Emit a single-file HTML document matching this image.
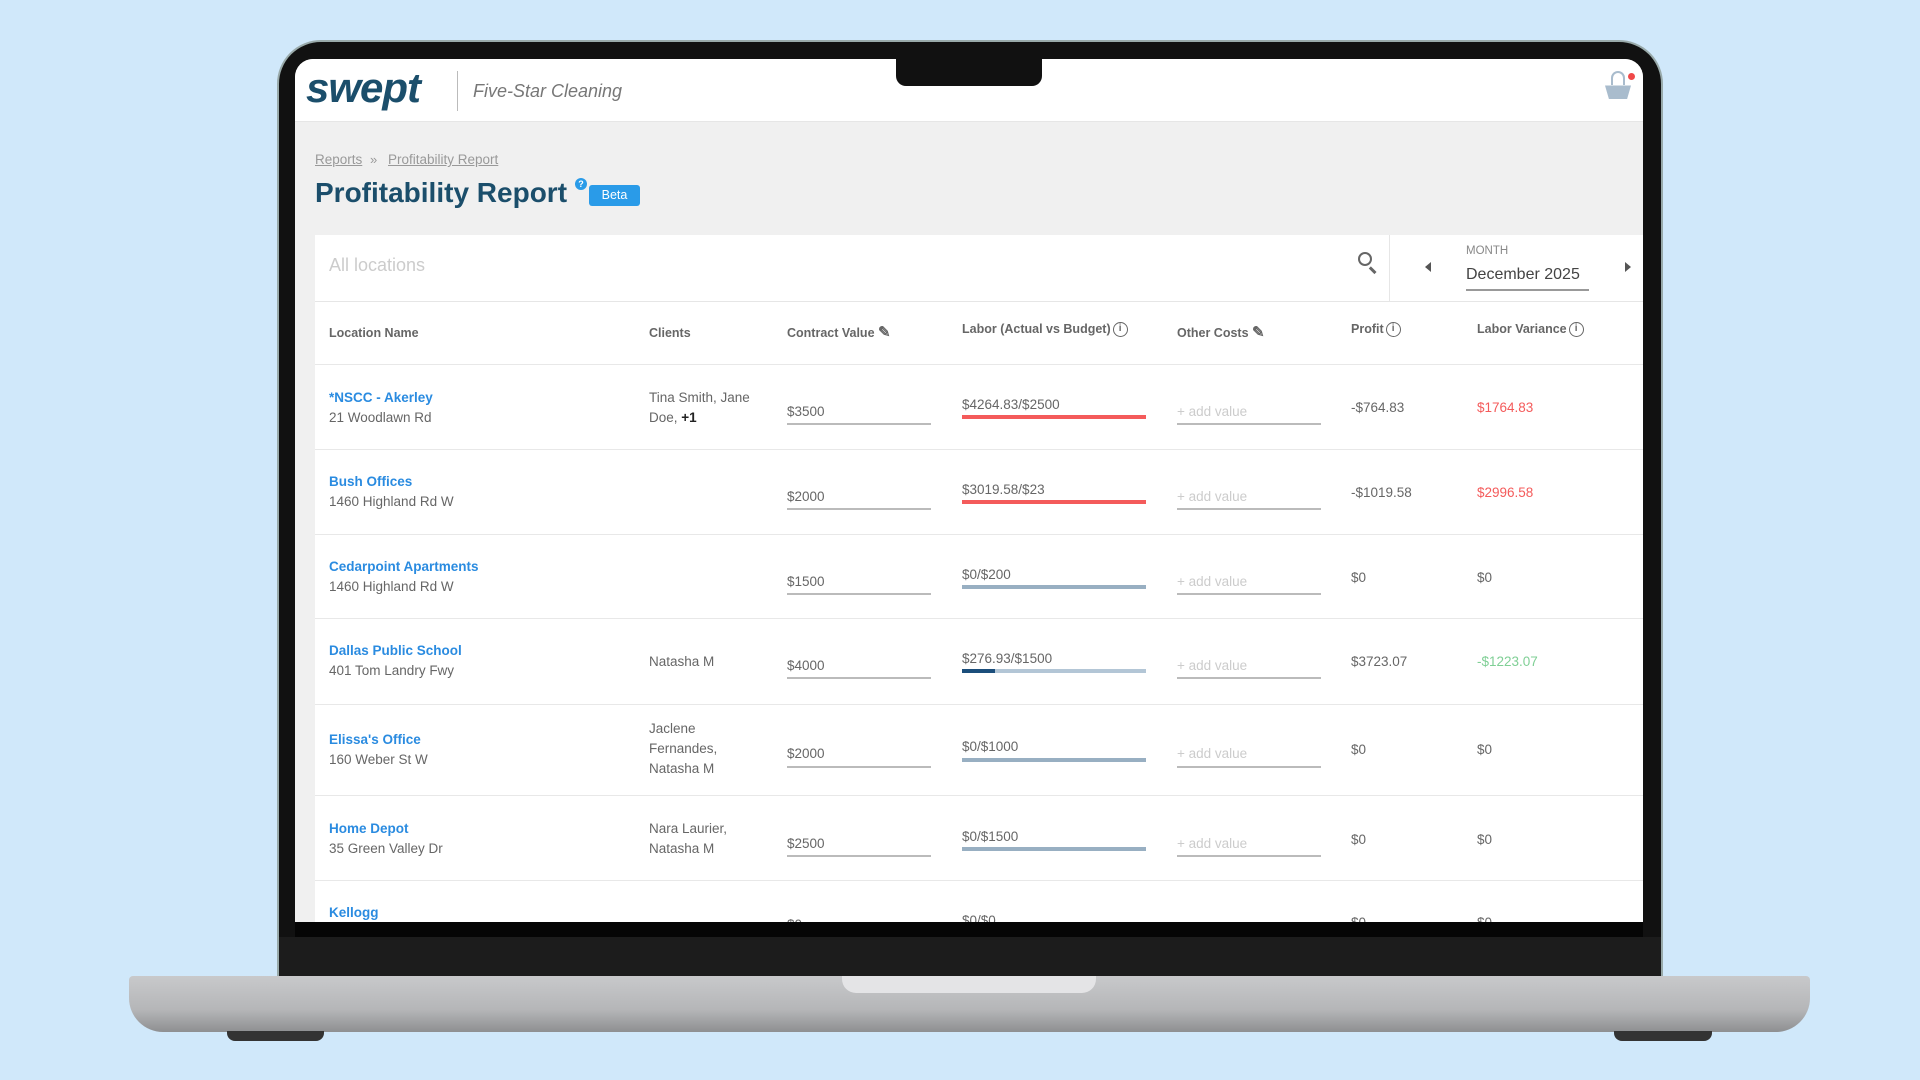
<!DOCTYPE html>
<html><head><meta charset="utf-8"><style>
*{margin:0;padding:0;box-sizing:border-box}
body{width:1920px;height:1080px;background:#d0e8fa;position:relative;overflow:hidden;font-family:"Liberation Sans",sans-serif;color:#555}
.a{position:absolute;white-space:nowrap}
.lid{left:277px;top:40px;width:1386px;height:940px;background:#111;border-radius:44px 44px 0 0;border:2px solid #9aa;}
.scr{left:295px;top:59px;width:1348px;height:863px;background:#f0f0f0;overflow:hidden;border-radius:18px 18px 0 0}
.hdr{left:0;top:0;width:1348px;height:63px;background:#fff;border-bottom:1px solid #e6e6e6}
.card{left:20px;top:176px;width:1328px;height:700px;background:#fff}
.th{font-size:12.5px;font-weight:bold;color:#666;top:91px}
.row{left:0;width:1328px;border-top:1px solid #e8e8e8}
.nm{font-size:13.5px;font-weight:bold;color:#2a8be0}
.ad{font-size:13.5px;color:#666}
.t{font-size:13.5px;color:#666}
.ul{height:2px;background:#bbb}
.ph{font-size:13.5px;color:#ccc}
.ic{display:inline-block;width:15px;height:15px;border:1.5px solid #666;border-radius:50%;font-size:10px;text-align:center;line-height:12px;font-weight:bold;vertical-align:2px;margin-left:2px}
</style></head><body>
<div class="a lid"></div>
<div class="a" style="left:295px;top:922px;width:1348px;height:16px;background:#050505"></div>
<div class="a" style="left:279px;top:937px;width:1382px;height:40px;background:#1c1c1c"></div>
<div class="a" style="left:129px;top:976px;width:1681px;height:56px;background:linear-gradient(#c8c9cb,#b5b6b8 60%,#8e8f91);border-radius:4px 4px 34px 34px"></div>
<div class="a" style="left:842px;top:976px;width:254px;height:17px;background:#e4e4e6;border-radius:0 0 14px 14px"></div>
<div class="a" style="left:227px;top:1031px;width:97px;height:10px;background:#333;border-radius:0 0 8px 8px"></div>
<div class="a" style="left:1614px;top:1031px;width:98px;height:10px;background:#333;border-radius:0 0 8px 8px"></div>

<div class="a scr">
 <div class="a hdr">
  <div class="a" style="left:11px;top:5px;font-size:42px;font-weight:bold;font-style:italic;color:#1b4e6b;letter-spacing:-1px">swept</div>
  <div class="a" style="left:162px;top:12px;width:1px;height:40px;background:#bbb"></div>
  <div class="a" style="left:178px;top:22px;font-size:18px;font-style:italic;color:#777">Five-Star Cleaning</div>
  <div class="a" style="left:1310px;top:22px;width:26px;height:18px;background:#a9bccd;clip-path:polygon(0 25%,100% 25%,85% 100%,15% 100%)"></div>
  <div class="a" style="left:1316px;top:12px;width:14px;height:14px;border:2px solid #a9bccd;border-bottom:none;border-radius:50% 50% 0 0"></div>
  <div class="a" style="left:1333px;top:14px;width:7px;height:7px;background:#f04848;border-radius:50%"></div>
 </div>
 <div class="a" style="left:20px;top:93px;font-size:13.5px;color:#999;text-decoration:underline">Reports</div>
 <div class="a" style="left:75px;top:93px;font-size:13px;color:#999">»</div>
 <div class="a" style="left:93px;top:93px;font-size:13.5px;color:#999;text-decoration:underline">Profitability Report</div>
 <div class="a" style="left:20px;top:118px;font-size:28px;font-weight:bold;color:#1b4e6b">Profitability Report</div>
 <div class="a" style="left:280px;top:119px;width:12px;height:12px;border-radius:50%;background:#2a9be8;color:#fff;font-size:9px;text-align:center;line-height:12px;font-weight:bold">?</div>
 <div class="a" style="left:294px;top:126px;width:51px;height:21px;background:#2a9be8;border-radius:3px;color:#fff;font-size:12.5px;text-align:center;line-height:21px">Beta</div>

 <div class="a card">
  <div class="a" style="left:14px;top:20px;font-size:18px;color:#ccc">All locations</div>
  <div class="a" style="left:1043px;top:17px;width:14px;height:14px;border:2px solid #666;border-radius:50%"></div>
  <div class="a" style="left:1055px;top:31px;width:8px;height:2.5px;background:#666;transform:rotate(45deg);transform-origin:left"></div>
  <div class="a" style="left:1074px;top:0;width:1px;height:66px;background:#e6e6e6"></div>
  <div class="a" style="left:1110px;top:27px;width:0;height:0;border-top:5px solid transparent;border-bottom:5px solid transparent;border-right:6px solid #555"></div>
  <div class="a" style="left:1151px;top:10px;font-size:11.5px;color:#888">MONTH</div>
  <div class="a" style="left:1151px;top:31px;font-size:16px;color:#444">December 2025</div>
  <div class="a" style="left:1151px;top:54px;width:123px;height:2px;background:#999"></div>
  <div class="a" style="left:1310px;top:27px;width:0;height:0;border-top:5px solid transparent;border-bottom:5px solid transparent;border-left:6px solid #555"></div>
  <div class="a" style="left:0;top:66px;width:1328px;height:1px;background:#e6e6e6"></div>

  <div class="a th" style="left:14px">Location Name</div>
  <div class="a th" style="left:334px">Clients</div>
  <div class="a th" style="left:472px;top:88px">Contract Value <span style="font-size:15px">✎</span></div>
  <div class="a th" style="left:647px;top:87px">Labor (Actual vs Budget)<span class="ic">i</span></div>
  <div class="a th" style="left:862px;top:88px">Other Costs <span style="font-size:15px">✎</span></div>
  <div class="a th" style="left:1036px;top:87px">Profit<span class="ic">i</span></div>
  <div class="a th" style="left:1162px;top:87px">Labor Variance<span class="ic">i</span></div>

  <div class="a row" style="top:129px;height:85px">
   <div class="a nm" style="left:14px;top:25px">*NSCC - Akerley</div><div class="a ad" style="left:14px;top:45px">21 Woodlawn Rd</div>
   <div class="a t" style="left:334px;top:25px">Tina Smith, Jane</div><div class="a t" style="left:334px;top:45px">Doe, <b style="color:#222">+1</b></div>
   <div class="a t" style="left:472px;top:39px">$3500</div><div class="a ul" style="left:472px;top:58px;width:144px"></div>
   <div class="a t" style="left:647px;top:32px">$4264.83/$2500</div><div class="a" style="left:647px;top:50px;width:184px;height:4px;background:#f45b5b"></div>
   <div class="a ph" style="left:862px;top:39px">+ add value</div><div class="a ul" style="left:862px;top:58px;width:144px"></div>
   <div class="a t" style="left:1036px;top:35px">-$764.83</div><div class="a t" style="left:1162px;top:35px;color:#f45b5b">$1764.83</div>
  </div>
  <div class="a row" style="top:214px;height:85px">
   <div class="a nm" style="left:14px;top:24px">Bush Offices</div><div class="a ad" style="left:14px;top:44px">1460 Highland Rd W</div>
   <div class="a t" style="left:472px;top:39px">$2000</div><div class="a ul" style="left:472px;top:58px;width:144px"></div>
   <div class="a t" style="left:647px;top:32px">$3019.58/$23</div><div class="a" style="left:647px;top:50px;width:184px;height:4px;background:#f45b5b"></div>
   <div class="a ph" style="left:862px;top:39px">+ add value</div><div class="a ul" style="left:862px;top:58px;width:144px"></div>
   <div class="a t" style="left:1036px;top:35px">-$1019.58</div><div class="a t" style="left:1162px;top:35px;color:#f45b5b">$2996.58</div>
  </div>
  <div class="a row" style="top:299px;height:84px">
   <div class="a nm" style="left:14px;top:24px">Cedarpoint Apartments</div><div class="a ad" style="left:14px;top:44px">1460 Highland Rd W</div>
   <div class="a t" style="left:472px;top:39px">$1500</div><div class="a ul" style="left:472px;top:58px;width:144px"></div>
   <div class="a t" style="left:647px;top:32px">$0/$200</div><div class="a" style="left:647px;top:50px;width:184px;height:4px;background:#98afc2"></div>
   <div class="a ph" style="left:862px;top:39px">+ add value</div><div class="a ul" style="left:862px;top:58px;width:144px"></div>
   <div class="a t" style="left:1036px;top:35px">$0</div><div class="a t" style="left:1162px;top:35px">$0</div>
  </div>
  <div class="a row" style="top:383px;height:86px">
   <div class="a nm" style="left:14px;top:24px">Dallas Public School</div><div class="a ad" style="left:14px;top:44px">401 Tom Landry Fwy</div>
   <div class="a t" style="left:334px;top:35px">Natasha M</div>
   <div class="a t" style="left:472px;top:39px">$4000</div><div class="a ul" style="left:472px;top:58px;width:144px"></div>
   <div class="a t" style="left:647px;top:32px">$276.93/$1500</div><div class="a" style="left:647px;top:50px;width:184px;height:4px;background:#b3c6d6"></div><div class="a" style="left:647px;top:50px;width:33px;height:4px;background:#1b4e7b"></div>
   <div class="a ph" style="left:862px;top:39px">+ add value</div><div class="a ul" style="left:862px;top:58px;width:144px"></div>
   <div class="a t" style="left:1036px;top:35px">$3723.07</div><div class="a t" style="left:1162px;top:35px;color:#7fcf95">-$1223.07</div>
  </div>
  <div class="a row" style="top:469px;height:91px">
   <div class="a nm" style="left:14px;top:27px">Elissa's Office</div><div class="a ad" style="left:14px;top:47px">160 Weber St W</div>
   <div class="a t" style="left:334px;top:16px">Jaclene</div><div class="a t" style="left:334px;top:36px">Fernandes,</div><div class="a t" style="left:334px;top:56px">Natasha M</div>
   <div class="a t" style="left:472px;top:41px">$2000</div><div class="a ul" style="left:472px;top:61px;width:144px"></div>
   <div class="a t" style="left:647px;top:34px">$0/$1000</div><div class="a" style="left:647px;top:53px;width:184px;height:4px;background:#98afc2"></div>
   <div class="a ph" style="left:862px;top:41px">+ add value</div><div class="a ul" style="left:862px;top:61px;width:144px"></div>
   <div class="a t" style="left:1036px;top:37px">$0</div><div class="a t" style="left:1162px;top:37px">$0</div>
  </div>
  <div class="a row" style="top:560px;height:85px">
   <div class="a nm" style="left:14px;top:25px">Home Depot</div><div class="a ad" style="left:14px;top:45px">35 Green Valley Dr</div>
   <div class="a t" style="left:334px;top:25px">Nara Laurier,</div><div class="a t" style="left:334px;top:45px">Natasha M</div>
   <div class="a t" style="left:472px;top:40px">$2500</div><div class="a ul" style="left:472px;top:59px;width:144px"></div>
   <div class="a t" style="left:647px;top:33px">$0/$1500</div><div class="a" style="left:647px;top:51px;width:184px;height:4px;background:#98afc2"></div>
   <div class="a ph" style="left:862px;top:40px">+ add value</div><div class="a ul" style="left:862px;top:59px;width:144px"></div>
   <div class="a t" style="left:1036px;top:36px">$0</div><div class="a t" style="left:1162px;top:36px">$0</div>
  </div>
  <div class="a row" style="top:645px;height:60px">
   <div class="a nm" style="left:14px;top:24px">Kellogg</div>
   <div class="a t" style="left:472px;top:36px">$0</div>
   <div class="a t" style="left:647px;top:32px">$0/$0</div>
   <div class="a t" style="left:1036px;top:34px">$0</div><div class="a t" style="left:1162px;top:34px">$0</div>
  </div>
 </div>
</div>
<div class="a" style="left:896px;top:59px;width:146px;height:27px;background:#111;border-radius:0 0 10px 10px"></div>
</body></html>
